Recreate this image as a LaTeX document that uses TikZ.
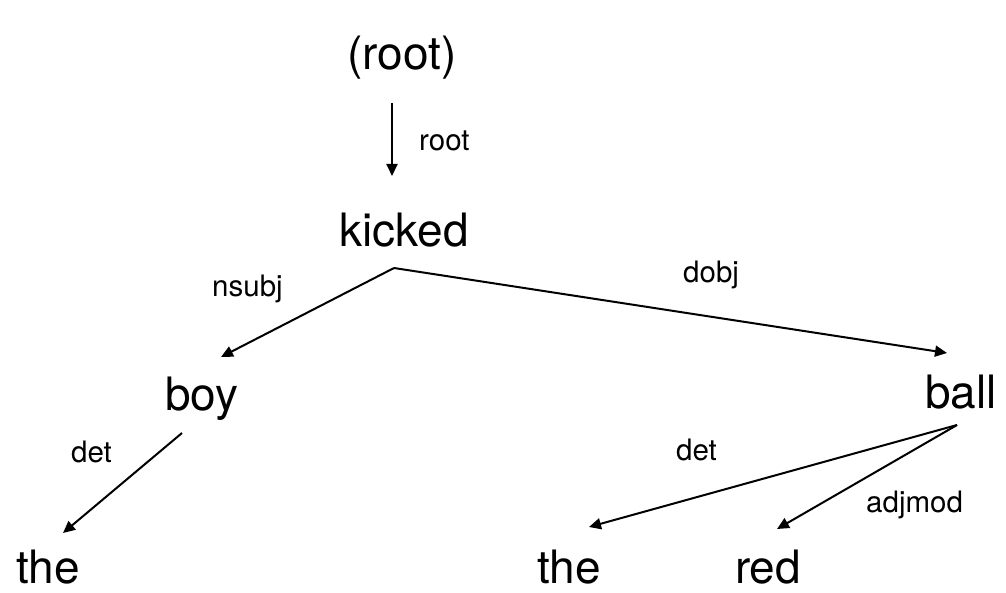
\documentclass[tikz,border=0pt]{standalone}
\usepackage{fontspec}
\setmainfont{TeX Gyre Heros}
\usetikzlibrary{arrows.meta}
\begin{document}
\begin{tikzpicture}[x=1pt,y=-1pt,
  word/.style={inner sep=0pt,anchor=base,font=\fontsize{46}{50}\selectfont},
  lbl/.style={inner sep=0pt,anchor=base west,font=\fontsize{29.5}{33}\selectfont},
  arr/.style={line width=2pt,-{Triangle[length=12pt,width=11pt]}}]
\useasboundingbox (0,0) rectangle (1006,593);
% words
\node[word] (rootw) at (402,70) {(root)};
\node[word] (kicked) at (404,247) {kicked};
\node[word] (boy) at (202,410) {boy};
\node[word] (ball) at (961,408) {ball};
\node[word] (the1) at (48,583) {the};
\node[word] (the2) at (569,583) {the};
\node[word] (red) at (768,583) {red};
% labels
\node[lbl] (lroot) at (419,151) {root};
\node[lbl] (lnsubj) at (212,297) {nsubj};
\node[lbl] (ldobj) at (683,283) {dobj};
\node[lbl] (ldet1) at (71,462) {det};
\node[lbl] (ldet2) at (676,460) {det};
\node[lbl] (ladj) at (866,512) {adjmod};
% connector ends
\coordinate (r-out) at (392,103);
\coordinate (k-in) at (392,176);
\coordinate (k-out) at (394,268);
\coordinate (boy-in) at (221,357);
\coordinate (ball-in) at (947,353);
\coordinate (boy-out) at (182,433);
\coordinate (the1-in) at (63,533);
\coordinate (ball-out) at (957,425);
\coordinate (the2-in) at (589,527);
\coordinate (red-in) at (777,529);
% connectors
\draw[arr] (r-out) -- (k-in);
\draw[arr] (k-out) -- (boy-in);
\draw[arr] (k-out) -- (ball-in);
\draw[arr] (boy-out) -- (the1-in);
\draw[arr] (ball-out) -- (the2-in);
\draw[arr] (ball-out) -- (red-in);
\end{tikzpicture}
\end{document}
